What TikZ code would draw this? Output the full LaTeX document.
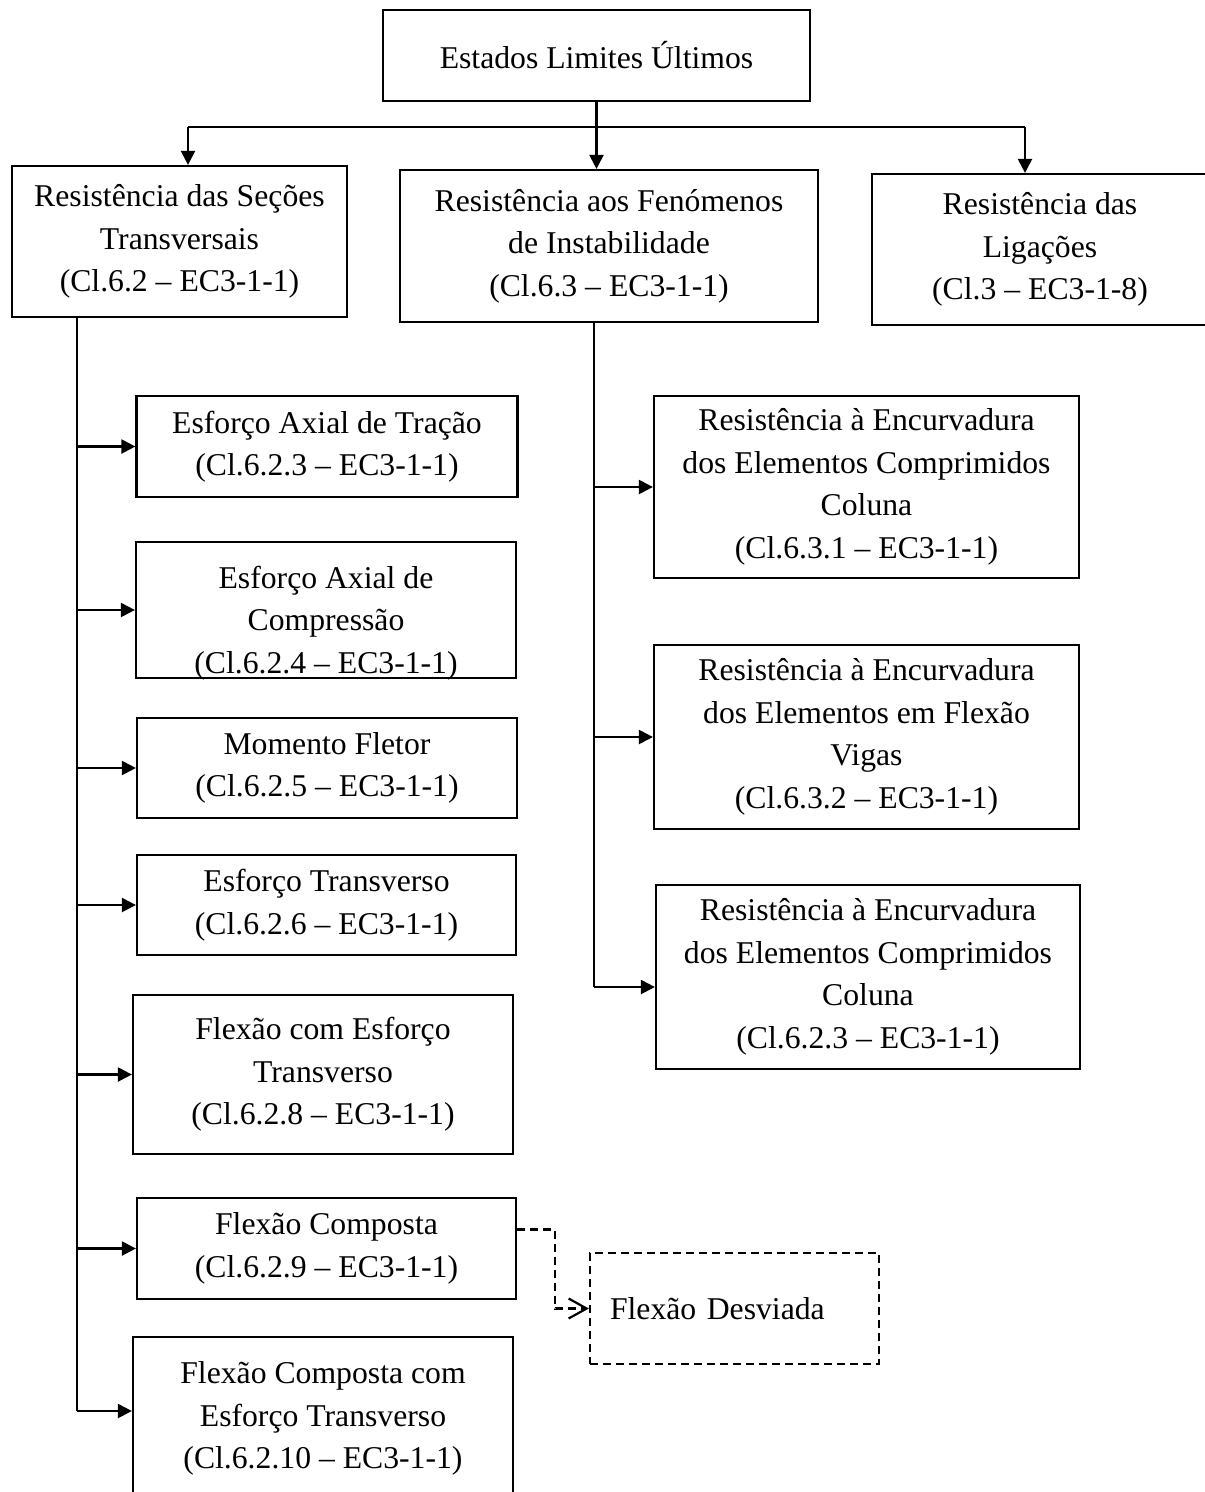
\documentclass[tikz,border=0pt]{standalone}
\usepackage{fontspec}
\setmainfont{Liberation Serif}
\usetikzlibrary{arrows.meta}
\begin{document}
\begin{tikzpicture}[x=1pt, y=-1pt,
    box/.style={draw, line width=2.2pt, align=center, inner sep=0pt,
      font=\fontsize{31.7pt}{42.5pt}\selectfont},
    arr/.style={line width=2.2pt, -{Triangle[length=14pt,width=14pt]}},
    dasharr/.style={line width=2.2pt, dash pattern=on 8pt off 5pt,
      -{Straight Barb[length=18pt,width=20pt]}}]
  \useasboundingbox (0,0) rectangle (1205,1492);
  \clip (0,0) rectangle (1205,1492);
  \node[box, minimum width=427pt, minimum height=91pt] (elu) at (596.5,55.5) {Estados Limites Últimos};
  \node[box, minimum width=335pt, minimum height=151pt] (sec) at (179.5,241.5)
    {Resistência das Seções\\Transversais\\(Cl.6.2 – EC3-1-1)};
  \node[box, minimum width=418pt, minimum height=152pt] (fen) at (609,246)
    {Resistência aos Fenómenos\\de Instabilidade\\(Cl.6.3 – EC3-1-1)};
  \node[box, minimum width=336pt, minimum height=151pt] (lig) at (1040,249.5)
    {Resistência das\\Ligações\\(Cl.3 – EC3-1-8)};
  \coordinate (busl) at (188,127);
  \coordinate (busr) at (1025,127);
  \draw[line width=2.2pt] (busl) -- (busr);
  \draw[arr] (elu.south) -- (elu.south |- fen.north);
  \draw[arr] (busl) -- (busl |- sec.north);
  \draw[arr] (busr) -- (busr |- lig.north);

  \node[box, minimum width=381pt, minimum height=101pt] (b1) at (327,446.5)
    {Esforço Axial de Tração\\(Cl.6.2.3 – EC3-1-1)};
  \node[box, minimum width=380pt, minimum height=136pt] (b2) at (326,610) {};
  \node[box, draw=none] (t2) at (326,623)
    {Esforço Axial de\\Compressão\\(Cl.6.2.4 – EC3-1-1)};
  \fill[white] ([yshift=-1.1pt]b2.south west) rectangle ([yshift=-20pt]b2.south east);
  \node[box, minimum width=380pt, minimum height=100pt] (b3) at (327,768)
    {Momento Fletor\\(Cl.6.2.5 – EC3-1-1)};
  \node[box, minimum width=379pt, minimum height=100pt] (b4) at (326.5,905)
    {Esforço Transverso\\(Cl.6.2.6 – EC3-1-1)};
  \node[box, minimum width=380pt, minimum height=159pt] (b5) at (323,1074.5)
    {Flexão com Esforço\\Transverso\\(Cl.6.2.8 – EC3-1-1)};
  \node[box, minimum width=379pt, minimum height=101pt] (b6) at (326.5,1248.5)
    {Flexão Composta\\(Cl.6.2.9 – EC3-1-1)};
  \node[box, minimum width=380pt, minimum height=163pt] (b7) at (323,1418.5)
    {Flexão Composta com\\Esforço Transverso\\(Cl.6.2.10 – EC3-1-1)};
  \node[box, dash pattern=on 8pt off 5pt, minimum width=289pt, minimum height=111pt,
    text width=249pt, inner xsep=20pt, align=left] (desv) at (734.5,1308.5) {Flexão Desviada};

  \coordinate (lt) at (77,317);
  \coordinate (lend) at (77,1411);
  \draw[line width=2.2pt] (lt) -- (lend);
  \foreach \b in {b1,b2,b3,b4,b5,b6}
    \draw[arr] (lt |- \b.west) -- (\b.west);
  \draw[arr] (lend) -- (lend -| b7.west);
  \draw[dasharr] ([yshift=19pt]b6.east) -- ++(38,0) |- (desv.west);

  \node[box, minimum width=425pt, minimum height=182pt] (r1) at (866.5,487)
    {Resistência à Encurvadura\\dos Elementos Comprimidos\\Coluna\\(Cl.6.3.1 – EC3-1-1)};
  \node[box, minimum width=425pt, minimum height=184pt] (r2) at (866.5,737)
    {Resistência à Encurvadura\\dos Elementos em Flexão\\Vigas\\(Cl.6.3.2 – EC3-1-1)};
  \node[box, minimum width=424pt, minimum height=184pt] (r3) at (868,977)
    {Resistência à Encurvadura\\dos Elementos Comprimidos\\Coluna\\(Cl.6.2.3 – EC3-1-1)};
  \coordinate (rt) at (594,322);
  \coordinate (rend) at (594,987);
  \draw[line width=2.2pt] (rt) -- (rend);
  \foreach \r in {r1,r2}
    \draw[arr] (rt |- \r.west) -- (\r.west);
  \draw[arr] (rend) -- (rend -| r3.west);
\end{tikzpicture}
\end{document}
